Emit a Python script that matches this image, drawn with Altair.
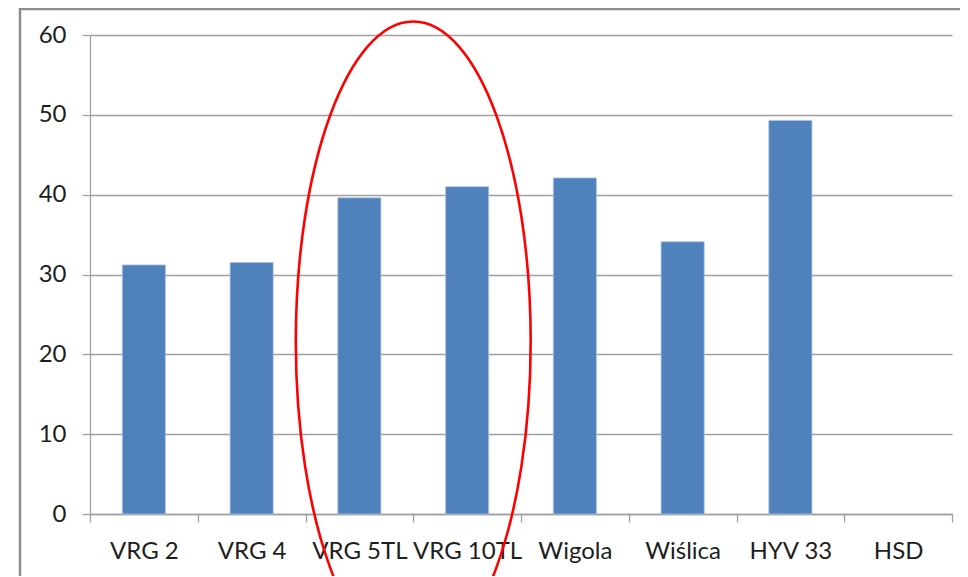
import altair as alt
import pandas as pd

# ---- data ----
categories = ["VRG 2", "VRG 4", "VRG 5TL", "VRG 10TL", "Wigola", "Wiślica", "HYV 33", "HSD"]
values = [31.2, 31.5, 39.6, 41.0, 42.1, 34.1, 49.3, None]
y_ticks = [0, 10, 20, 30, 40, 50, 60]

# highlight ellipse: centred on the boundary after this category, at this value
highlight_after = ["VRG 5TL"]
highlight_center = [21.6]

df = pd.DataFrame({"variety": categories, "value": values})
df_hl = pd.DataFrame({"variety": highlight_after, "value": highlight_center})
df_frame = pd.DataFrame({"k": [0]})

FONT = "Lato"
GRID = "#a0a0a0"

x_enc = alt.X(
    "variety:N",
    sort=categories,
    scale=alt.Scale(domain=categories, paddingInner=0, paddingOuter=0),
    axis=alt.Axis(
        title=None, labelAngle=0, tickBand="extent", tickSize=8,
        labelPadding=17, grid=False, domainColor=GRID, tickColor=GRID,
        domainWidth=1.3, tickWidth=1.3,
    ),
)
y_enc = alt.Y(
    "value:Q",
    scale=alt.Scale(domain=[0, 60], nice=False),
    axis=alt.Axis(
        title=None, values=y_ticks, tickSize=8, labelPadding=16, grid=True,
        gridColor=GRID, gridWidth=1.3, domainColor=GRID, tickColor=GRID,
        domainWidth=1.3, tickWidth=1.3,
    ),
)

bars = alt.Chart(df).mark_bar(
    color="#4f81bd", stroke="#a9c1df", strokeWidth=0.8,
    width=alt.RelativeBandSize(0.4),
).encode(x=x_enc, y=y_enc)

# ellipse as a custom symbol path (unit coordinates, ry = 1, rx = 0.367)
ellipse_path = (
    "M0,-1 C0.2027,-1 0.367,-0.5523 0.367,0 "
    "C0.367,0.5523 0.2027,1 0,1 "
    "C-0.2027,1 -0.367,0.5523 -0.367,0 "
    "C-0.367,-0.5523 -0.2027,-1 0,-1 Z"
)
ellipse = alt.Chart(df_hl).mark_point(
    shape=ellipse_path, size=409600, filled=False,
    stroke="#ff0000", strokeWidth=2.6, opacity=1,
).encode(
    x=alt.X("variety:N", bandPosition=1),
    y=alt.Y("value:Q"),
)

frame = alt.Chart(df_frame).mark_rect(
    filled=False, stroke="#8c8c8c", strokeWidth=2.5,
).encode(
    x=alt.value(-70), x2=alt.value(950),
    y=alt.value(-26), y2=alt.value(600),
)

chart = alt.layer(frame, bars, ellipse).properties(
    width=862,
    height=479,
    padding={"left": 82, "top": 27, "right": 8, "bottom": 62},
    autosize=alt.AutoSizeParams(type="none"),
).configure_axis(
    labelFont=FONT, labelFontSize=24, labelColor="#1e1e1e",
).configure_view(stroke="transparent")

chart.save("out.html", embed_options={"renderer": "svg", "actions": False})
